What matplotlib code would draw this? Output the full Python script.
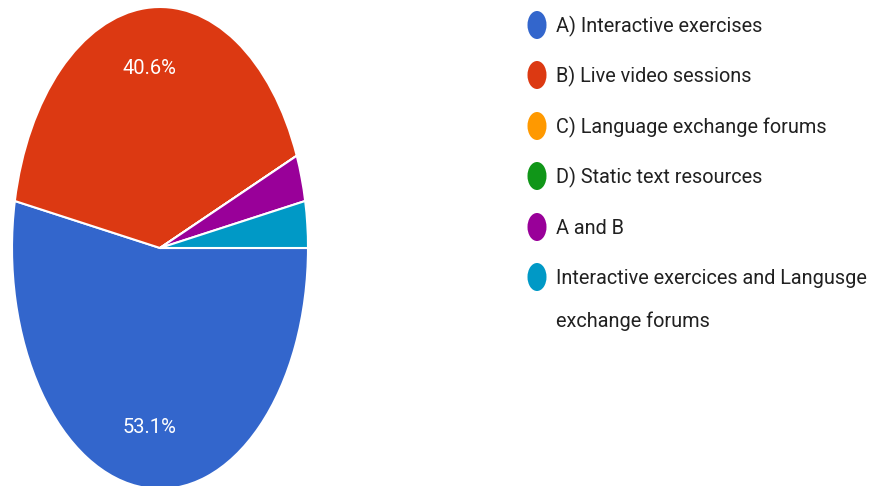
import matplotlib
matplotlib.use("Agg")
import matplotlib.pyplot as plt
from matplotlib.patches import Ellipse

categories = [
    "A) Interactive exercises",
    "B) Live video sessions",
    "C) Language exchange forums",
    "D) Static text resources",
    "A and B",
    "Interactive exercices and Langusge\nexchange forums",
]
counts = [17, 13, 0, 0, 1, 1]
colors = ["#3366cc", "#dc3912", "#ff9900", "#109618", "#990099", "#0099c6"]

W, H = 871, 486
fig = plt.figure(figsize=(W / 100, H / 100), dpi=100)
fig.patch.set_facecolor("white")

# pie axes: elliptical (stretched) pie
cx, cy, rx, ry = 160, 248, 148, 241
ax = fig.add_axes([(cx - rx) / W, (H - cy - ry) / H, 2 * rx / W, 2 * ry / H])

def fmt(p):
    return f"{p:.1f}%" if p >= 5 else ""

wedges, texts, autotexts = ax.pie(
    counts, colors=colors, startangle=0, counterclock=False,
    autopct=fmt, pctdistance=0.75,
    wedgeprops=dict(edgecolor="white", linewidth=1.5),
    textprops=dict(color="white", fontsize=14.5, family="Roboto"),
)
ax.set_aspect("auto")
ax.set_xlim(-1, 1)
ax.set_ylim(-1, 1)
ax.axis("off")

# legend
lax = fig.add_axes([0, 0, 1, 1])
lax.set_xlim(0, W)
lax.set_ylim(H, 0)
lax.axis("off")
row_y = [25, 75, 126, 176, 227, 277]
for i, (lab, col) in enumerate(zip(categories, colors)):
    y = row_y[i]
    lax.add_patch(Ellipse((537, y), 19, 28, facecolor=col, edgecolor="none"))
    lines = lab.split("\n")
    for j, line in enumerate(lines):
        lax.text(556, y + 7 + 43 * j, line, fontsize=14.3, family="Roboto",
                 color="#212121", va="baseline", ha="left")

fig.savefig("out.png", dpi=100)
